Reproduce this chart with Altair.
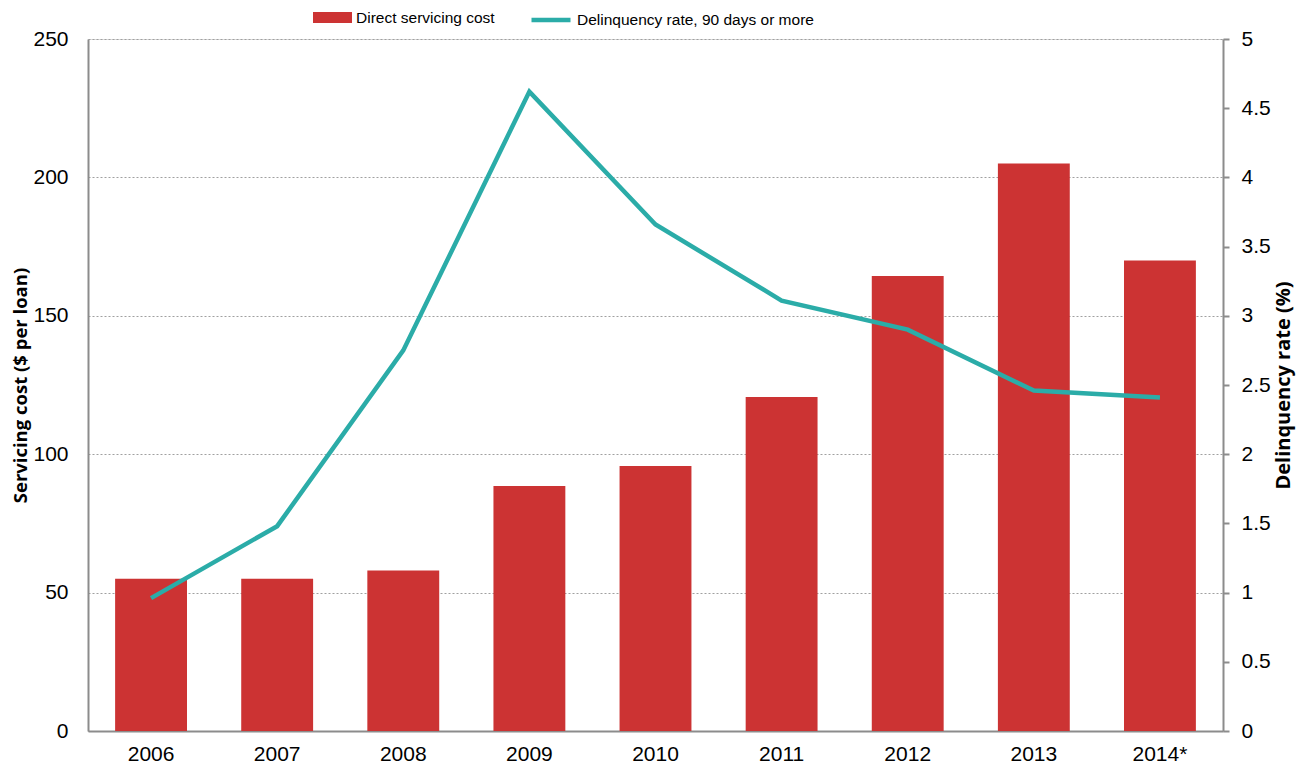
import altair as alt
import pandas as pd

years = ["2006", "2007", "2008", "2009", "2010", "2011", "2012", "2013", "2014*"]
servicing_cost = [55, 55, 58, 88.5, 95.7, 120.7, 164.4, 205, 170]
delinquency_rate = [0.96, 1.48, 2.75, 4.62, 3.66, 3.11, 2.90, 2.46, 2.41]
bar_label = "Direct servicing cost"
line_label = "Delinquency rate, 90 days or more"

RED = "#CC3333"
TEAL = "#2BACA8"
AXIS_GRAY = "#8C8C8C"

df = pd.DataFrame({
    "year": years,
    "cost": servicing_cost,
    "rate": delinquency_rate,
    "s1": bar_label,
    "s2": line_label,
})

x = alt.X(
    "year:N",
    sort=years,
    title=None,
    scale=alt.Scale(paddingInner=0.43, paddingOuter=0.215),
    axis=alt.Axis(labelAngle=0, ticks=False, labelFontSize=21, labelPadding=12,
                  domainColor=AXIS_GRAY, domainWidth=2, grid=False, labelColor="#000"),
)

bars = alt.Chart(df).mark_bar().encode(
    x=x,
    y=alt.Y(
        "cost:Q",
        scale=alt.Scale(domain=[0, 250], nice=False),
        axis=alt.Axis(
            values=[0, 50, 100, 150, 200, 250],
            title="Servicing cost ($ per loan)",
            titleFont="Open Sans", titleFontWeight="bold", titleFontSize=18.5,
            titlePadding=2, titleColor="#000",
            ticks=False, labelFontSize=21, labelPadding=20, labelColor="#000",
            domainColor=AXIS_GRAY, domainWidth=2,
            grid=True, gridDash=[2, 2], gridColor="#A0A0A0", gridWidth=1,
        ),
    ),
    fill=alt.Fill(
        "s1:N",
        scale=alt.Scale(domain=[bar_label], range=[RED]),
        legend=alt.Legend(
            title=None, orient="none", legendX=225, legendY=-41,
            symbolType="M-1,-0.28H1V0.28H-1Z", symbolSize=1521,
            symbolStrokeWidth=0, symbolOpacity=1,
            labelFont="Liberation Sans", labelFontSize=15.5, labelOffset=4,
            labelLimit=500, labelColor="#000", padding=0,
        ),
    ),
)

line = alt.Chart(df).mark_line(strokeWidth=4.5).encode(
    x=x,
    y=alt.Y(
        "rate:Q",
        scale=alt.Scale(domain=[0, 5], nice=False),
        axis=alt.Axis(
            orient="right",
            values=[0, 0.5, 1, 1.5, 2, 2.5, 3, 3.5, 4, 4.5, 5],
            format="~g",
            title="Delinquency rate (%)",
            titleFont="Open Sans", titleFontWeight="bold", titleFontSize=20,
            titleAngle=270, titlePadding=23, titleColor="#000",
            ticks=True, tickSize=6, tickColor=AXIS_GRAY, tickWidth=2,
            labelFontSize=21, labelPadding=12, labelColor="#000",
            domainColor=AXIS_GRAY, domainWidth=2, grid=False,
        ),
    ),
    stroke=alt.Stroke(
        "s2:N",
        scale=alt.Scale(domain=[line_label], range=[TEAL]),
        legend=alt.Legend(
            title=None, orient="none", legendX=441, legendY=-41,
            symbolType="M-1,0H1", symbolSize=1521, symbolStrokeWidth=4.5,
            labelFont="Liberation Sans", labelFontSize=15.5, labelOffset=4,
            labelLimit=500, labelColor="#000", padding=0,
        ),
    ),
)

chart = alt.layer(bars, line).resolve_scale(
    y="independent", fill="independent", stroke="independent"
).properties(
    width=1135, height=692,
    autosize=alt.AutoSizeParams(type="none"),
    padding={"left": 80, "top": 31, "right": 75, "bottom": 34},
).configure_view(stroke=None).configure(font="Liberation Sans", background="white")

chart.save("out.html", embed_options={"renderer": "svg", "actions": False})
